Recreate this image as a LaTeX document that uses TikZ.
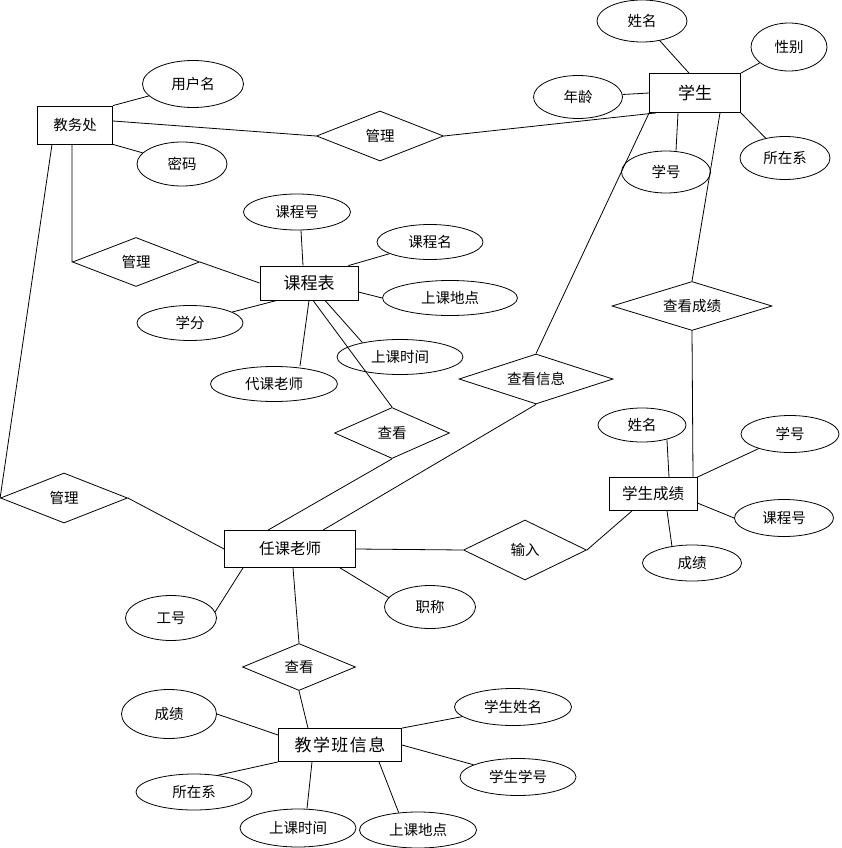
\documentclass[tikz,border=0pt]{standalone}
\usepackage{fontspec}
\setmainfont{Noto Sans CJK SC}
\usetikzlibrary{shapes.geometric}
\tikzset{
  base/.style={draw=black, line width=0.8pt, inner sep=0pt, font=\fontsize{14.5}{16}\selectfont},
  ent/.style={base, rectangle},
  bigent/.style={ent, font=\fontsize{17}{19}\selectfont},
  rel/.style={base, diamond, aspect=2.5},
  attr/.style={base, ellipse},
  conn/.style={draw=black, line width=0.8pt},
}
\begin{document}
\begin{tikzpicture}[x=1pt,y=-1pt]
\useasboundingbox[fill=white] (0,0) rectangle (841,848);
% entities
\node[ent, minimum width=75pt, minimum height=38pt] (jwc) at (75,125) {教务处};
\node[bigent, minimum width=91pt, minimum height=39pt] (xs) at (695,93) {学生};
\node[bigent, minimum width=98pt, minimum height=34pt] (kcb) at (309,283) {课程表};
\node[ent, font=\fontsize{15.5}{17}\selectfont, minimum width=131pt, minimum height=37pt] (rkls) at (290,549) {任课老师};
\node[ent, font=\fontsize{15.5}{17}\selectfont, minimum width=88pt, minimum height=33pt] (xscj) at (653,494) {学生成绩};
\node[bigent, minimum width=123pt, minimum height=33pt] (jxb) at (340,745) {教\hspace{1.5pt}学\hspace{1.5pt}班\hspace{1.5pt}信\hspace{1.5pt}息};
% relationships
\node[rel, minimum width=127pt, minimum height=50pt] (gl1) at (380,136) {管理};
\node[rel, minimum width=127pt, minimum height=49pt] (gl2) at (136,262) {管理};
\node[rel, minimum width=127pt, minimum height=50pt] (gl3) at (64,498) {管理};
\node[rel, minimum width=115pt, minimum height=51pt] (ck1) at (392,433) {查看};
\node[rel, minimum width=154pt, minimum height=50pt] (ckxx) at (536,379) {查看信息};
\node[rel, minimum width=160pt, minimum height=49pt] (ckcj) at (692,306) {查看成绩};
\node[rel, minimum width=123pt, minimum height=60pt] (sr) at (525,550) {输入};
\node[rel, minimum width=113pt, minimum height=47pt] (ck2) at (299,667) {查看};
% attributes
\node[attr, minimum width=101pt, minimum height=47pt] (yhm) at (193,84) {用户名};
\node[attr, minimum width=90pt, minimum height=44pt] (mm) at (182,164) {密码};
\node[attr, minimum width=90pt, minimum height=42pt] (xm1) at (642,21) {姓名};
\node[attr, minimum width=76pt, minimum height=48pt] (xb) at (789,47) {性别};
\node[attr, minimum width=89pt, minimum height=43pt] (nl) at (578,97) {年龄};
\node[attr, minimum width=89pt, minimum height=42pt] (xh1) at (666,172) {学号};
\node[attr, minimum width=90pt, minimum height=43pt] (szx1) at (785,158) {所在系};
\node[attr, minimum width=107pt, minimum height=36pt] (kch1) at (297,212) {课程号};
\node[attr, minimum width=106pt, minimum height=35pt] (kcm) at (430,242) {课程名};
\node[attr, minimum width=135pt, minimum height=35pt] (skdd1) at (450,298) {上课地点};
\node[attr, minimum width=106pt, minimum height=35pt] (xf) at (190,323) {学分};
\node[attr, minimum width=127pt, minimum height=35pt] (dkls) at (274,384) {代课老师};
\node[attr, minimum width=126pt, minimum height=35pt] (sksj1) at (400,357) {上课时间};
\node[attr, minimum width=88pt, minimum height=34pt] (xm2) at (642,425) {姓名};
\node[attr, minimum width=98pt, minimum height=37pt] (xh2) at (790,434) {学号};
\node[attr, minimum width=99pt, minimum height=37pt] (kch2) at (784,518) {课程号};
\node[attr, minimum width=99pt, minimum height=36pt] (cj2) at (692,563) {成绩};
\node[attr, minimum width=91pt, minimum height=45pt] (gh) at (171,618) {工号};
\node[attr, minimum width=91pt, minimum height=43pt] (zc) at (430,607) {职称};
\node[attr, minimum width=95pt, minimum height=49pt] (cj3) at (169,714) {成绩};
\node[attr, minimum width=117pt, minimum height=37pt] (xsxm) at (513,707) {学生姓名};
\node[attr, minimum width=116pt, minimum height=37pt] (xsxh) at (518,777) {学生学号};
\node[attr, minimum width=116pt, minimum height=36pt] (szx2) at (194,792) {所在系};
\node[attr, minimum width=116pt, minimum height=38pt] (sksj2) at (298,828) {上课时间};
\node[attr, minimum width=117pt, minimum height=36pt] (skdd2) at (418,830) {上课地点};
% connectors: 教务处
\draw[conn] (jwc.north east) -- (yhm);
\draw[conn] (jwc.south east) -- (mm);
\draw[conn] ([yshift=4pt]jwc.east) -- (gl1.west);
\draw[conn] (gl1.east) -- ([xshift=7pt]xs.south west);
\draw[conn] ([xshift=-3pt]jwc.south) -- (gl2.west);
\draw[conn] (gl2.east) -- (kcb.west);
\draw[conn] ([xshift=-23pt]jwc.south) -- (gl3.west);
\draw[conn] (gl3.east) -- (rkls.west);
% 学生
\draw[conn] ([xshift=-6pt]xs.north) -- (xm1);
\draw[conn] (xs.north east) -- (xb);
\draw[conn] (xs.west) -- (nl);
\draw[conn] ([xshift=-17pt]xs.south) -- ([xshift=10pt]xh1.north);
\draw[conn] (xs.south east) -- (szx1);
\draw[conn] ([xshift=25pt]xs.south) -- (ckcj.north);
\draw[conn] (xs.south west) -- (ckxx.north);
% 课程表
\draw[conn] ([xshift=-6pt]kcb.north) -- ([xshift=4pt]kch1.south);
\draw[conn] ([xshift=-10pt]kcb.north east) -- (kcm);
\draw[conn] ([yshift=-9pt]kcb.east) -- (skdd1.west);
\draw[conn] ([xshift=-32pt]kcb.south) -- (xf);
\draw[conn] (kcb.south) -- ([xshift=26pt]dkls.north);
\draw[conn] ([xshift=16pt]kcb.south) -- (sksj1.159);
\draw[conn] ([xshift=4pt]kcb.south) -- (ck1.north);
% 任课老师
\draw[conn] (ck1.south) -- ([xshift=-22pt]rkls.north);
\draw[conn] (ckxx.south) -- ([xshift=33pt]rkls.north);
\draw[conn] (rkls.east) -- (sr.west);
\draw[conn] (sr.east) -- ([xshift=-21pt]xscj.south);
\draw[conn] ([xshift=-47pt]rkls.south) -- (gh.8);
\draw[conn] ([xshift=3pt]rkls.south) -- (ck2.north);
\draw[conn] ([xshift=50pt]rkls.south) -- (zc.167);
% 学生成绩
\draw[conn] ([xshift=40pt]xscj.north) -- (ckcj.south);
\draw[conn] ([xshift=16pt]xscj.north) -- (xm2.-30);
\draw[conn] (xscj.north east) -- (xh2);
\draw[conn] ([yshift=-9pt]xscj.east) -- (kch2.west);
\draw[conn] ([xshift=14pt]xscj.south) -- (cj2.140);
% 教学班信息
\draw[conn] (ck2.south) -- ([xshift=-32pt]jxb.north);
\draw[conn] (cj3.east) -- ([yshift=10pt]jxb.west);
\draw[conn] (jxb.south west) -- (szx2.35);
\draw[conn] ([xshift=-28pt]jxb.south) -- ([xshift=9pt]sksj2.north);
\draw[conn] ([xshift=39pt]jxb.south) -- (skdd2.138);
\draw[conn] (jxb.north east) -- (xsxm);
\draw[conn] (jxb.east) -- (xsxh);
\end{tikzpicture}
\end{document}
